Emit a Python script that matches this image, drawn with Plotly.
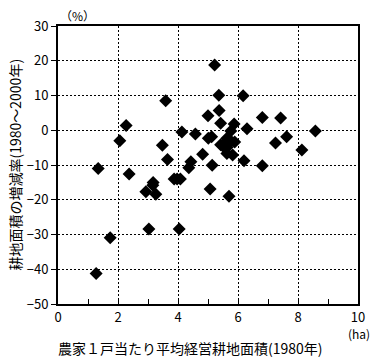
import plotly.graph_objects as go

farm_size_1980 = [5.22, 3.59, 2.27, 2.06, 3.48, 3.65, 4.13, 4.58, 4.82, 5.00,
                  5.12, 5.01, 5.14, 4.43, 4.36, 1.34, 2.37, 3.87, 3.97, 4.08,
                  5.36, 6.17, 5.37, 5.42, 5.87, 6.81, 7.42, 8.58, 7.62, 7.25,
                  8.13, 6.30, 5.76, 5.63, 5.76, 5.89, 5.57, 5.42, 5.50, 5.64,
                  5.63, 5.82, 6.20, 6.81, 2.93, 3.17, 3.16, 3.26, 5.07, 3.03,
                  4.04, 1.74, 1.27, 5.70]
area_change = [18.8, 8.5, 1.4, -3.0, -4.3, -8.4, -0.5, -1.1, -6.9, 4.2,
               -1.9, -2.3, -10.1, -9.1, -10.8, -11.0, -12.6, -14.0, -14.0, -14.0,
               10.1, 9.9, 5.7, 2.0, 1.8, 3.7, 3.5, -0.2, -1.9, -3.7,
               -5.7, 0.4, -0.2, -2.3, -3.1, -3.4, -3.8, -4.2, -4.6, -4.9,
               -6.7, -7.1, -8.8, -10.2, -17.7, -15.0, -15.8, -18.4, -16.9, -28.4,
               -28.4, -30.9, -41.2, -19.0]

x_ticks = [0, 2, 4, 6, 8, 10]
y_ticks = [30, 20, 10, 0, -10, -20, -30, -40, -50]

font_family = "Noto Sans CJK JP"

fig = go.Figure()
fig.add_trace(go.Scatter(
    x=farm_size_1980, y=area_change, mode="markers",
    marker=dict(symbol="diamond", size=10, color="black", line=dict(width=0)),
    showlegend=False, hoverinfo="x+y"))

fig.update_xaxes(
    range=[0, 10], tickvals=x_ticks, ticktext=[str(v) for v in x_ticks],
    showgrid=True, gridcolor="black", griddash="2px,2px", gridwidth=1,
    showline=True, linecolor="black", linewidth=2, mirror=True,
    ticks="inside", tickmode="array", ticklen=5, tickcolor="black",
    minor=dict(tickvals=[1, 3, 5, 7, 9], ticks="inside", ticklen=5, tickcolor="black", showgrid=False),
    zeroline=False, automargin=False,
    tickfont=dict(size=13, color="black", family=font_family),
)
fig.update_yaxes(
    range=[-50, 30], tickvals=y_ticks, ticktext=[str(v).replace("-", "\u2212") for v in y_ticks],
    showgrid=True, gridcolor="black", griddash="2px,2px", gridwidth=1,
    showline=True, linecolor="black", linewidth=2, mirror=True,
    ticks="outside", ticklen=5, tickcolor="black",
    zeroline=False, automargin=False,
    tickfont=dict(size=13, color="black", family=font_family),
)

fig.add_annotation(text="農家１戸当たり平均経営耕地面積(1980年)", xref="paper", yref="paper",
                   x=0.44, y=-0.115, xanchor="center", yanchor="top", showarrow=False,
                   font=dict(size=14, color="black", family=font_family))
fig.add_annotation(text="(ha)", xref="paper", yref="paper",
                   x=1.0, y=-0.07, xanchor="left", yanchor="top", xshift=-12, showarrow=False,
                   font=dict(size=12, color="black", family=font_family))
fig.add_annotation(text="（%）", xref="paper", yref="paper",
                   x=0.0, y=1.0, xanchor="left", yanchor="bottom", yshift=0, showarrow=False,
                   font=dict(size=12, color="black", family=font_family))
fig.add_annotation(text="耕地面積の増減率(1980～2000年)", xref="paper", yref="paper",
                   x=-0.145, y=0.5, xanchor="center", yanchor="middle", textangle=-90, showarrow=False,
                   font=dict(size=14, color="black", family=font_family))

fig.update_layout(
    width=377, height=360,
    margin=dict(l=58, r=19, t=26, b=56, autoexpand=False),
    plot_bgcolor="white", paper_bgcolor="white",
    font=dict(family=font_family, color="black"),
)

fig.write_html("out.html", config={"displayModeBar": False},
               post_script="document.body.style.margin='0';")
